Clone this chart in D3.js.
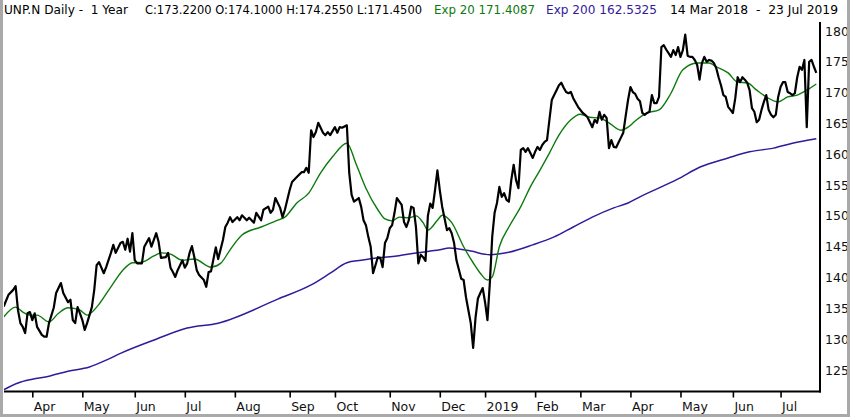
<!DOCTYPE html>
<html>
<head>
<meta charset="utf-8">
<script src="https://cdn.jsdelivr.net/npm/d3@7/dist/d3.min.js"></script>
<style>
  html, body { margin: 0; padding: 0; background: #fff; }
  svg { display: block; }
  text { font-family: "DejaVu Sans", "Verdana", sans-serif; white-space: pre; }
</style>
</head>
<body>
<svg id="chart" width="850" height="417"></svg>
<script>
// ---------- DATA ----------
// trading-day index (0 = 14 Mar 2018, 341 = 23 Jul 2019)
const closeDays = [0,2,4,5,6,7,8,9,10,11,12,13,14,16,17,18,19,21,22,24,25,27,28,29,30,31,32,33,34,35,37,38,39,40,42,43,45,46,47,49,50,51,52,53,54,55,56,58,59,61,62,63,64,65,66,68,69,70,71,72,73,75,76,77,78,79,80,81,82,84,85,86,87,89,90,92,93,94,95,96,98,99,100,102,103,105,106,108,109,111,112,113,114,116,117,118,120,121,123,125,126,127,128,129,130,131,132,134,135,136,137,139,140,141,142,144,145,146,147,149,150,151,152,153,154,155,157,158,159,160,161,162,163,164,165,167,168,169,170,171,172,173,174,175,176,177,178,179,180,181,182,183,184,186,187,188,189,190,192,193,194,195,196,197,198,199,200,201,202,203,204,205,206,207,208,209,210,211,212,213,214,215,216,217,218,219,220,221,222,223,224,225,226,227,228,229,230,231,232,233,234,235,236,237,238,239,241,243,244,245,246,247,248,249,250,251,252,253,254,255,256,257,258,259,260,261,262,263,264,265,266,267,268,269,270,271,272,273,274,275,276,277,278,279,280,281,282,283,284,285,286,287,288,289,290,291,292,293,294,295,296,297,298,299,300,301,302,303,304,305,306,307,308,309,310,311,312,313,314,315,316,317,318,319,320,321,322,323,324,325,326,327,328,329,330,331,332,333,334,335,336,337,338,339,340,341];
const closeVals = [135.3,137.2,138.0,138.6,134.7,132.6,132.0,131.0,134.2,134.4,133.1,134.2,132.0,130.7,130.4,130.4,132.6,135.1,137.5,139.1,137.5,136.0,136.4,133.1,132.6,135.2,134.2,133.1,131.5,132.6,135.2,138.0,142.0,142.5,140.7,141.7,144.0,145.3,144.0,145.6,145.8,144.5,146.3,144.2,147.2,142.8,142.3,142.3,145.0,146.4,145.0,146.1,147.2,145.8,143.2,143.3,144.0,141.6,140.9,140.1,141.2,142.8,141.6,142.3,144.0,145.1,143.3,141.2,140.4,139.6,138.5,140.9,141.0,144.9,143.0,146.1,148.2,148.9,149.8,149.0,149.8,149.3,150.1,149.3,149.7,148.9,150.5,149.3,151.0,151.5,150.5,151.0,152.9,151.3,149.8,151.0,154.2,155.5,156.3,157.1,157.1,157.8,157.0,163.9,162.8,163.6,165.1,163.5,163.1,163.6,163.1,164.4,163.5,164.4,164.3,164.7,157.0,153.4,152.3,152.9,151.5,149.3,148.5,146.6,145.0,140.7,143.3,143.2,141.7,145.6,146.4,148.0,148.5,150.5,152.9,151.8,149.0,148.2,149.3,151.5,151.3,148.2,142.3,143.7,143.3,142.7,150.0,152.0,151.3,154.2,157.4,154.2,151.5,147.7,148.0,147.2,145.6,142.8,139.8,139.6,136.8,134.7,132.6,128.6,133.5,136.6,137.5,138.3,136.0,133.1,139.1,146.6,150.5,152.1,154.7,153.1,153.7,152.6,152.3,155.8,158.3,155.8,154.5,160.7,161.0,160.4,161.0,160.2,159.4,160.4,161.2,160.7,161.5,162.0,162.3,165.6,168.8,169.6,170.4,171.2,171.6,170.8,170.1,169.9,170.1,169.1,167.7,166.7,166.4,166.0,165.2,164.4,165.6,165.1,166.9,165.6,166.4,165.9,161.0,162.3,161.2,161.1,161.9,162.7,163.5,166.2,168.8,170.9,170.1,169.8,169.0,168.6,166.7,166.4,166.7,166.9,169.6,168.3,168.3,169.3,177.4,177.7,177.0,176.4,175.8,176.9,176.1,177.4,175.8,176.9,179.4,176.0,175.8,175.8,175.3,174.5,172.1,174.8,175.8,175.0,175.3,175.2,174.8,174.0,172.5,171.2,169.6,169.3,167.7,167.2,166.7,169.1,172.5,171.7,172.5,172.1,171.6,170.4,167.5,166.9,165.2,165.6,167.2,168.5,169.6,167.2,166.4,166.0,166.4,169.3,170.9,171.7,171.7,170.1,169.9,169.6,169.9,172.5,174.2,173.7,175.3,164.4,175.0,175.3,174.2,173.22];

const ema20Days = [0,5,8,11,14,19,23,27,32,35,39,45,50,54,58,63,66,70,75,80,87,91,95,100,108,115,118,123,128,133,138,144,148,152,157,160,163,166,170,173,176,178,182,184,188,193,197,200,203,205,208,212,217,221,225,229,233,238,242,246,250,254,259,262,265,270,275,280,285,291,296,299,304,308,312,316,320,325,329,333,337,341];
const ema20Vals = [133.6,135.2,134.4,133.9,133.9,132.8,134.2,135.1,134.7,133.9,135.2,138.5,141.2,142.4,142.5,143.5,144.0,143.8,142.8,143.0,141.7,142.3,144.5,146.9,148.2,149.3,149.8,152.1,153.7,157.0,159.6,161.8,158.3,154.5,151.0,149.5,149.2,149.8,149.7,150.0,148.9,147.7,149.3,150.1,148.9,145.0,142.4,140.7,139.6,140.1,145.0,148.2,151.5,154.7,157.4,160.2,163.1,165.6,166.5,166.0,165.9,165.1,163.9,164.4,165.4,166.7,167.2,169.9,173.7,174.8,174.8,174.2,173.2,171.7,171.6,170.4,169.3,168.5,169.3,169.6,170.4,171.4087];

const ema200Days = [0,6,12,19,27,36,43,49,64,77,90,115,129,137,144,150,157,165,173,183,187,196,204,212,222,231,239,247,256,262,267,283,292,304,313,323,331,341];
const ema200Vals = [121.8,122.9,123.5,124.0,124.8,125.5,126.6,127.7,130.0,131.8,132.6,136.5,138.8,140.7,142.4,142.8,143.2,143.5,144.0,144.5,144.8,144.3,143.7,144.1,145.3,146.6,148.2,149.8,151.3,152.1,153.1,156.0,157.9,159.4,160.4,161.0,161.8,162.5325];

const monthLabels = ["Apr","May","Jun","Jul","Aug","Sep","Oct","Nov","Dec","2019","Feb","Mar","Apr","May","Jun","Jul"];
const monthStartDays = [12,33,55,76,97,120,139,162,183,202,223,242,263,284,306,326];
const priceTicks = [125,130,135,140,145,150,155,160,165,170,175,180];

const headerMain = "UNP.N Daily -  1 Year";
const headerOHLC = "C:173.2200 O:174.1000 H:174.2550 L:171.4500";
const headerEma20 = "Exp 20 171.4087";
const headerEma200 = "Exp 200 162.5325";
const headerRange = "14 Mar 2018  -  23 Jul 2019";

// ---------- CHART ----------
const W = 850, H = 417;
const plotLeft = 4, plotRight = 820, plotTop = 20, plotBottom = 391.5;
const svg = d3.select("#chart");

svg.append("rect").attr("x",0).attr("y",0).attr("width",W).attr("height",H).attr("fill","#fff");

const x = d3.scaleLinear().domain([0, 341]).range([3.7, 3.7 + 341 * 2.383]);
const y = d3.scaleLinear().domain([125, 180]).range([370, 31]);

const GREEN = "#0d7a0d", PURPLE = "#34199a";

svg.append("defs").append("clipPath").attr("id","clip")
  .append("rect").attr("x",plotLeft).attr("y",plotTop)
  .attr("width",plotRight - plotLeft - 1).attr("height",plotBottom - plotTop - 1);

const g = svg.append("g").attr("clip-path","url(#clip)");

const emaLine = d3.line().x(d => x(d[0])).y(d => y(d[1])).curve(d3.curveMonotoneX);
const closeLine = d3.line().x(d => x(d[0])).y(d => y(d[1]));

g.append("path").datum(d3.zip(ema200Days, ema200Vals))
  .attr("d", emaLine).attr("fill","none").attr("stroke",PURPLE).attr("stroke-width",1.5);
g.append("path").datum(d3.zip(ema20Days, ema20Vals))
  .attr("d", emaLine).attr("fill","none").attr("stroke",GREEN).attr("stroke-width",1.4);
g.append("path").datum(d3.zip(closeDays, closeVals))
  .attr("d", closeLine).attr("fill","none").attr("stroke","#000")
  .attr("stroke-width",2.2).attr("stroke-linejoin","round");

// bottom axis
const xAxis = d3.axisBottom(x).tickValues(monthStartDays)
  .tickFormat((d,i) => monthLabels[i]).tickSize(6).tickSizeOuter(0);
const gx = svg.append("g").attr("transform",`translate(0,${plotBottom})`).call(xAxis);
gx.select(".domain").remove();
gx.selectAll(".tick line").attr("stroke","#000").attr("stroke-width",1.6);
gx.selectAll(".tick text").attr("text-anchor","start").attr("dx",1).attr("dy",0)
  .attr("y",19).attr("font-size",12.5).attr("fill","#111")
  .style("font-family","'DejaVu Sans', sans-serif");

// right axis
const yAxis = d3.axisRight(y).tickValues(priceTicks).tickFormat(d3.format("d")).tickSize(0);
const gy = svg.append("g").attr("transform",`translate(${plotRight},0)`).call(yAxis);
gy.select(".domain").remove();
gy.selectAll(".tick text").attr("x",5).attr("font-size",12.5).attr("fill","#111")
  .style("font-family","'DejaVu Sans', sans-serif");

// frame lines
svg.append("line").attr("x1",plotLeft).attr("x2",plotRight + 1).attr("y1",plotBottom).attr("y2",plotBottom)
  .attr("stroke","#000").attr("stroke-width",2);
svg.append("line").attr("x1",plotRight).attr("x2",plotRight).attr("y1",plotTop + 2).attr("y2",plotBottom + 1)
  .attr("stroke","#000").attr("stroke-width",2);

// header
const hdr = svg.append("g").attr("font-size",12.5);
hdr.append("text").attr("x",4).attr("y",14).attr("fill","#000").text(headerMain)
  .attr("textLength",124).attr("lengthAdjust","spacingAndGlyphs");
hdr.append("text").attr("x",145).attr("y",14).attr("fill","#000").attr("font-size",11.4).text(headerOHLC)
  .attr("textLength",277).attr("lengthAdjust","spacingAndGlyphs");
hdr.append("text").attr("x",434).attr("y",14).attr("fill",GREEN).text(headerEma20)
  .attr("textLength",101).attr("lengthAdjust","spacingAndGlyphs");
hdr.append("text").attr("x",546).attr("y",14).attr("fill",PURPLE).text(headerEma200)
  .attr("textLength",111).attr("lengthAdjust","spacingAndGlyphs");
hdr.append("text").attr("x",670).attr("y",14).attr("fill","#000").text(headerRange)
  .attr("textLength",168).attr("lengthAdjust","spacingAndGlyphs");

// outer grey window border
svg.append("rect").attr("x",0).attr("y",0).attr("width",3).attr("height",H).attr("fill","#a9a9a9");
svg.append("rect").attr("x",W-3).attr("y",0).attr("width",3).attr("height",H).attr("fill","#a9a9a9");
svg.append("rect").attr("x",0).attr("y",H-3).attr("width",W).attr("height",3).attr("fill","#a9a9a9");
</script>
</body>
</html>
